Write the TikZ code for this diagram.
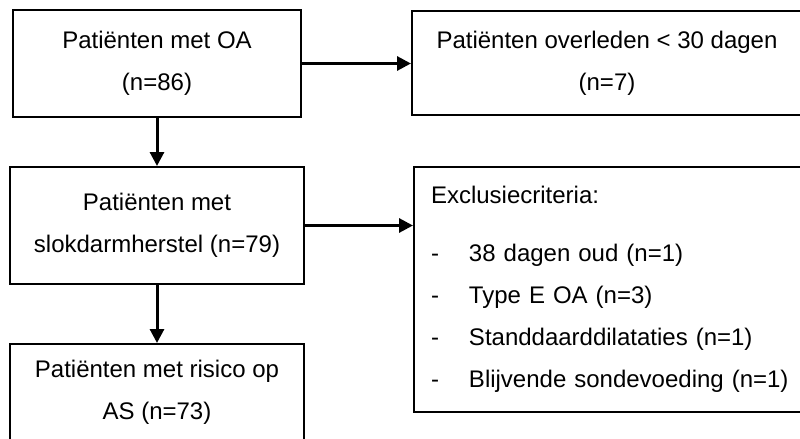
\documentclass[tikz,border=0pt]{standalone}
\usepackage{fontspec}
\setmainfont{Liberation Sans}
\usetikzlibrary{arrows.meta}

\begin{document}
\begin{tikzpicture}[x=0.5pt,y=-0.5pt,
  box/.style={draw,line width=1pt,inner sep=0pt,align=center,font=\fontsize{12pt}{21pt}\selectfont},
  flow/.style={line width=1.5pt,-{Triangle[length=7pt,width=7pt]}}]
\useasboundingbox (0,0) rectangle (800,439);
\node[box,minimum width=144pt,minimum height=53.5pt] (oa) at (157,63.5) {Patiënten met OA\\(n=86)};
\node[box,minimum width=195pt,minimum height=52pt] (dead) at (607,63) {Patiënten overleden < 30 dagen\\(n=7)};
\node[box,minimum width=147pt,minimum height=58.5pt] (repair) at (157,225.5) {Patiënten met\\slokdarmherstel (n=79)};
\node[box,minimum width=147pt,minimum height=48.5pt] (risk) at (157,392.5) {Patiënten met risico op\\AS (n=73)};
\node[box,anchor=west,align=left,text width=190pt,inner xsep=8.5pt,minimum height=122.5pt] (excl) at (413,289.5)
  {Exclusiecriteria:\\[8pt]
   \makebox[19pt][l]{-}38 dagen oud (n=1)\\
   \makebox[19pt][l]{-}Type E OA (n=3)\\
   \makebox[19pt][l]{-}Standdaarddilataties (n=1)\\
   \makebox[19pt][l]{-}Blijvende sondevoeding (n=1)};
\draw[flow] (oa.east) -- (oa.east -| dead.west);
\draw[flow] (oa.south) -- (oa.south |- repair.north);
\draw[flow] (repair.east) -- (repair.east -| excl.west);
\draw[flow] (repair.south) -- (repair.south |- risk.north);
\end{tikzpicture}
\end{document}
